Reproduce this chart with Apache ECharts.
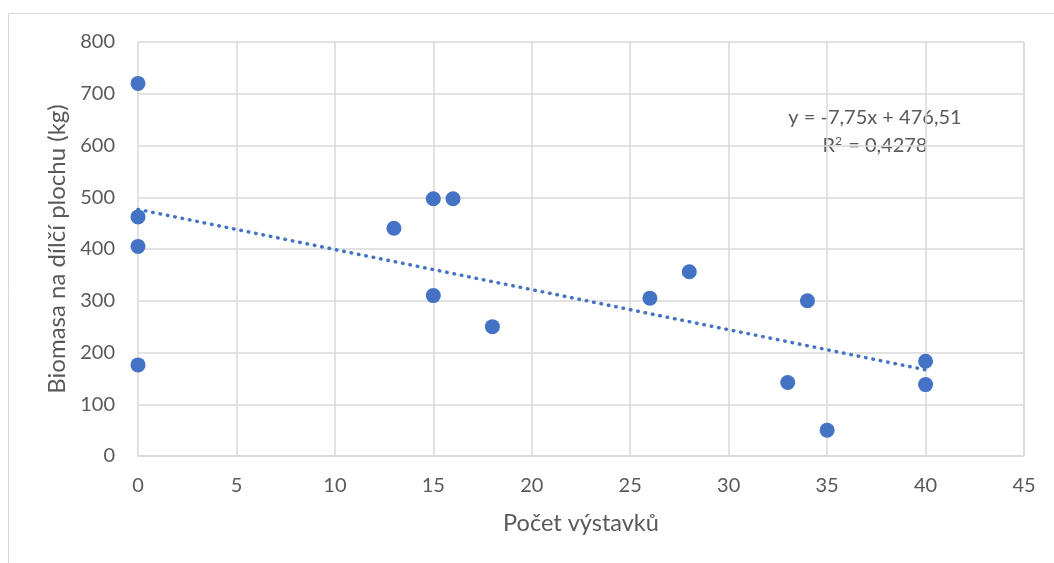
<!DOCTYPE html>
<html>
<head>
<meta charset="utf-8">
<script src="https://cdn.jsdelivr.net/npm/echarts@6/dist/echarts.min.js"></script>
<style>
  html, body { margin: 0; padding: 0; background: #fff; }
  #chart-container { width: 1054px; height: 563px; }
</style>
</head>
<body>
<div id="chart-container"></div>
<script>
// Data
const xValues = [0, 0, 0, 0, 13, 15, 16, 15, 18, 26, 28, 34, 33, 35, 40, 40];
const yValues = [720, 462, 405, 176, 440, 497, 497, 310, 250, 305, 356, 300, 142, 50, 183, 138];
const trendSlope = -7.75;
const trendIntercept = 476.51;
const trendRange = [0, 40];
const xTicks = { min: 0, max: 45, interval: 5 };
const yTicks = { min: 0, max: 800, interval: 100 };

const textColor = '#595959';
const dotColor = '#4472C4';
const font = 'Lato, "Open Sans", sans-serif';

function initChart() {
    const chartDom = document.getElementById('chart-container');
    const myChart = echarts.init(chartDom);

    const points = xValues.map((x, i) => [x, yValues[i]]);
    const trend = trendRange.map(x => [x, trendSlope * x + trendIntercept]);

    const option = {
        animation: false,
        backgroundColor: '#fff',
        grid: { left: 138, right: 30, top: 42, bottom: 107 },
        xAxis: {
            type: 'value',
            min: xTicks.min, max: xTicks.max, interval: xTicks.interval,
            name: 'Počet výstavků',
            nameLocation: 'middle',
            nameGap: 55,
            nameTextStyle: { color: textColor, fontSize: 23.5, fontFamily: font },
            axisLine: { show: true, lineStyle: { color: '#d9d9d9', width: 1.5 } },
            axisTick: { show: false },
            axisLabel: { color: textColor, fontSize: 20, fontFamily: font, margin: 20 },
            splitLine: { show: true, lineStyle: { color: '#d9d9d9', width: 1.5 } }
        },
        yAxis: {
            type: 'value',
            min: yTicks.min, max: yTicks.max, interval: yTicks.interval,
            name: 'Biomasa na dílčí plochu (kg)',
            nameLocation: 'middle',
            nameGap: 65,
            nameTextStyle: { color: textColor, fontSize: 24, fontFamily: font },
            axisLine: { show: false },
            axisTick: { show: false },
            axisLabel: { color: textColor, fontSize: 20, fontFamily: font, margin: 23 },
            splitLine: { show: true, lineStyle: { color: '#d9d9d9', width: 1.5 } }
        },
        graphic: [
            {
                type: 'rect',
                shape: { x: 8.5, y: 13.5, width: 1100, height: 600 },
                style: { fill: 'none', stroke: '#d9d9d9', lineWidth: 1 },
                silent: true
            },
            {
                type: 'line',
                shape: { x1: 1024, y1: 42, x2: 1024, y2: 456 },
                style: { stroke: '#d9d9d9', lineWidth: 1.5 },
                silent: true
            },
            {
                type: 'text',
                x: 875, y: 118,
                style: {
                    text: 'y = -7,75x + 476,51',
                    fill: textColor,
                    font: '20px ' + font,
                    align: 'center',
                    verticalAlign: 'middle'
                }
            },
            {
                type: 'text',
                x: 875, y: 146,
                style: {
                    text: '{r|R}{s|2}{r| = 0,4278}',
                    align: 'center',
                    verticalAlign: 'middle',
                    rich: {
                        r: { fill: textColor, fontSize: 20, fontFamily: font, lineHeight: 24 },
                        s: { fill: textColor, fontSize: 12, fontFamily: font, lineHeight: 24, padding: [0, 1, 10, 0] }
                    }
                }
            }
        ],
        series: [
            {
                name: 'Trend',
                type: 'line',
                data: trend,
                symbol: 'none',
                lineStyle: { color: dotColor, width: 3.5, type: [0.5, 7], cap: 'round' },
                z: 2
            },
            {
                name: 'Biomasa',
                type: 'scatter',
                data: points,
                symbolSize: 15,
                itemStyle: { color: dotColor, opacity: 1 },
                z: 3
            }
        ]
    };

    myChart.setOption(option);
}

initChart();
</script>
</body>
</html>
